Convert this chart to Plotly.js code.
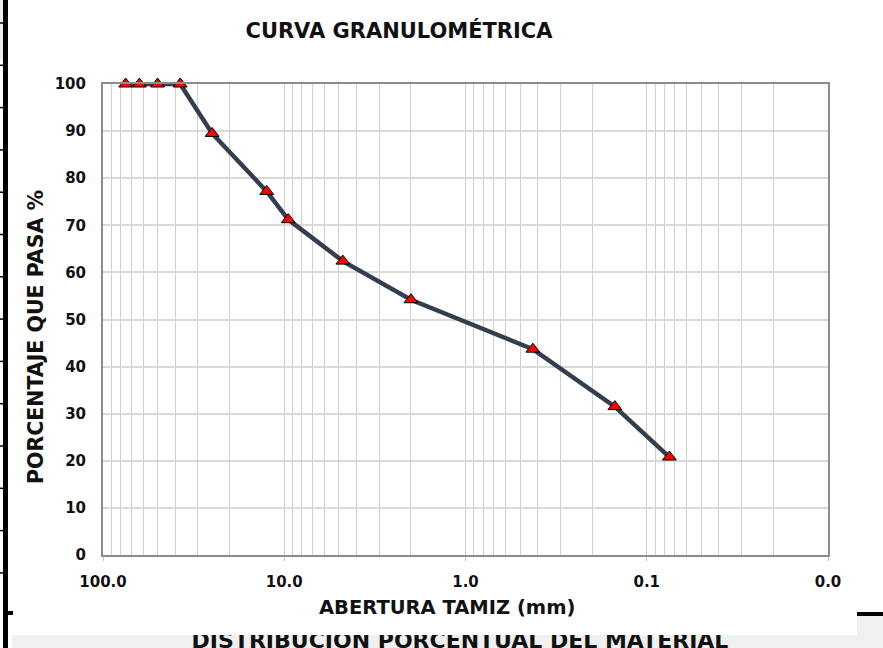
<!DOCTYPE html>
<html>
<head>
<meta charset="utf-8">
<script src="https://cdn.plot.ly/plotly-3.0.1.min.js"></script>
<style>
  html, body { margin:0; padding:0; }
  body { width:883px; height:648px; position:relative; overflow:hidden; background:#ffffff; font-family:"DejaVu Sans", sans-serif; }
  #band { position:absolute; left:12px; top:612px; width:871px; height:36px; background:#f0f0f0; }
  #bgtext { position:absolute; left:0; top:628px; width:920px; text-align:center; font-weight:bold; font-size:22px; line-height:26px; color:#111; white-space:nowrap; }
  #chart { position:absolute; left:0; top:0; width:883px; height:648px; }
</style>
</head>
<body>
<div id="band"></div>
<div id="bgtext">DISTRIBUCIÓN PORCENTUAL DEL MATERIAL</div>
<div id="chart"></div>
<script>
// ---- data ----
const sieveMm = [75, 63, 50, 37.5, 25, 12.5, 9.5, 4.75, 2.0, 0.425, 0.15, 0.075];
const percentPassing = [100, 100, 100, 100, 89.5, 77.2, 71.2, 62.4, 54.2, 43.7, 31.5, 20.8];
const xTickVals = [100, 10, 1, 0.1, 0.01];
const xTickText = ["100.0", "10.0", "1.0", "0.1", "0.0"];
const chartTitle = "CURVA GRANULOMÉTRICA";
const xTitle = "ABERTURA TAMIZ (mm)";
const yTitle = "PORCENTAJE QUE PASA %";

// ---- layout helpers (pixel -> paper) ----
const W = 883, H = 648, L = 103, R = 55, T = 84, B = 93;
const pw = W - L - R, ph = H - T - B;
const px = x => (x - L) / pw;
const py = y => (H - B - y) / ph;

const FONT = "DejaVu Sans, sans-serif";

const shapes = [
  {type:'rect', xref:'paper', yref:'paper', x0:px(0), x1:px(857), y0:py(635), y1:py(0), fillcolor:'#ffffff', line:{width:0}, layer:'below'},
  {type:'rect', xref:'paper', yref:'paper', x0:px(857), x1:px(883), y0:py(612), y1:py(0), fillcolor:'#ffffff', line:{width:0}, layer:'below'},
  {type:'rect', xref:'paper', yref:'paper', x0:px(857), x1:px(883), y0:py(616), y1:py(612), fillcolor:'#000000', line:{width:0}, layer:'above'},
  {type:'rect', xref:'paper', yref:'paper', x0:px(3), x1:px(8), y0:py(648), y1:py(0), fillcolor:'#000000', line:{width:0}, layer:'above'},
  {type:'rect', xref:'paper', yref:'paper', x0:px(0), x1:px(3), y0:py(60), y1:py(0), fillcolor:'#eeeeee', line:{width:0}, layer:'above'},
  {type:'rect', xref:'paper', yref:'paper', x0:px(8), x1:px(13), y0:py(615), y1:py(611), fillcolor:'#000000', line:{width:0}, layer:'above'}
];
for (let k = -3; k < 11; k++) {
  const yy = 446 - 42.3 * k;
  if (yy > 600) continue;
  shapes.push({type:'line', xref:'paper', yref:'paper', x0:px(0), x1:px(3), y0:py(yy), y1:py(yy), line:{color:'#000000', width:1.5}, layer:'above'});
}

const trace = {
  x: sieveMm,
  y: percentPassing,
  type: 'scatter',
  mode: 'lines+markers',
  cliponaxis: false,
  line: {color:'#333f4f', width:4.5},
  marker: {symbol:'triangle-up', size:12, color:'#ff0000', line:{color:'#000000', width:1}},
  hoverinfo: 'x+y',
  showlegend: false
};

const layout = {
  width: W, height: H,
  margin: {l:L, r:R, t:T, b:B, pad:0},
  paper_bgcolor: 'rgba(0,0,0,0)',
  plot_bgcolor: '#ffffff',
  font: {family: FONT, color:'#111111', size:15},
  title: {text: chartTitle, font:{family:FONT, size:21, weight:'bold', color:'#111111'}, x: 399/W, xref:'container', xanchor:'center', y: 1 - 31/H, yref:'container', yanchor:'middle'},
  xaxis: {
    type:'log', range:[2, -2],
    tickvals: xTickVals, ticktext: xTickText,
    tickfont:{family:FONT, size:15, weight:'bold', color:'#111111'},
    ticks:'outside', ticklen:4, tickcolor:'#bfbfbf', tickwidth:1,
    ticklabelstandoff: 8,
    showgrid:true, gridcolor:'#d0d0d0', gridwidth:1,
    minor:{dtick:'D1', showgrid:true, gridcolor:'#d0d0d0', gridwidth:1, ticks:''},
    showline:true, linecolor:'#8c8c8c', linewidth:2, mirror:true,
    zeroline:false,
    title:{text:''}
  },
  yaxis: {
    range:[0, 100], dtick:10,
    tickfont:{family:FONT, size:15, weight:'bold', color:'#111111'},
    ticks:'', ticklabelstandoff: 12,
    showgrid:true, gridcolor:'#d9d9d9', gridwidth:1.5,
    showline:true, linecolor:'#8c8c8c', linewidth:2, mirror:true,
    zeroline:false,
    title:{text:''}
  },
  shapes: shapes,
  annotations: [
    {text: xTitle, xref:'paper', yref:'paper', x: px(447), y: py(607), xanchor:'center', yanchor:'middle', showarrow:false,
     font:{family:FONT, size:19.5, weight:'bold', color:'#111111'}},
    {text: yTitle, xref:'paper', yref:'paper', x: px(36), y: py(337), xanchor:'center', yanchor:'middle', showarrow:false, textangle:-90,
     font:{family:FONT, size:20.5, weight:'bold', color:'#111111'}}
  ]
};

Plotly.newPlot('chart', [trace], layout, {displayModeBar:false});
</script>
</body>
</html>
